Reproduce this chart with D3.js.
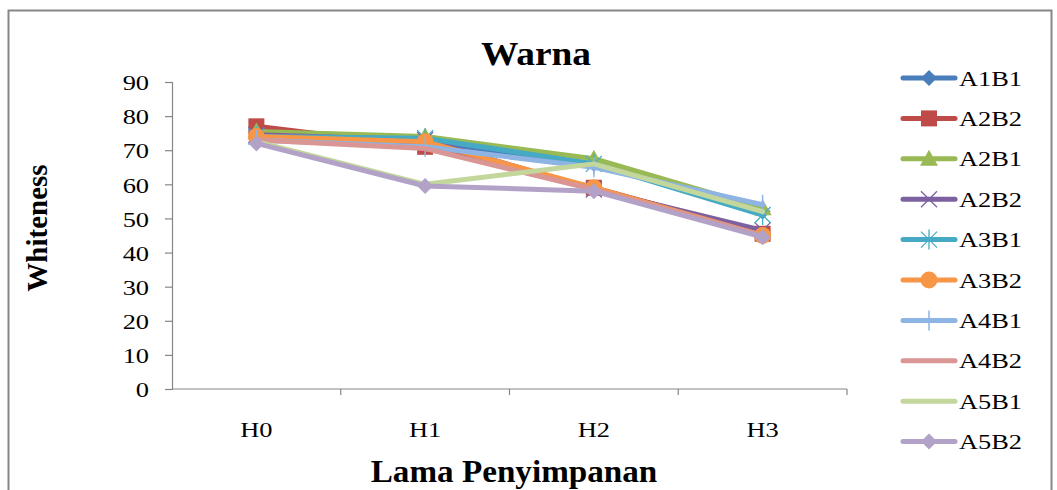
<!DOCTYPE html>
<html>
<head>
<meta charset="utf-8">
<script src="https://cdn.jsdelivr.net/npm/d3@7"></script>
<style>
  html, body { margin: 0; padding: 0; background: #fff; }
  svg { display: block; }
  text { font-family: "Liberation Serif", "Times New Roman", serif; fill: #000; }
</style>
</head>
<body>
<svg id="chart" width="1057" height="490"></svg>
<script>
// Storage time categories and Whiteness readings per treatment
const categories = ["H0", "H1", "H2", "H3"];
const seriesNames = ["A1B1", "A2B2", "A2B1", "A2B2", "A3B1", "A3B2", "A4B1", "A4B2", "A5B1", "A5B2"];
const A1B1 = [75, 72.5, 66, 52];
const A2B2a = [77, 71, 59, 45.5];
const A2B1 = [75.5, 74, 67.5, 53];
const A2B2b = [74.5, 73, 58.5, 46.5];
const A3B1 = [74, 73.5, 66, 51];
const A3B2 = [74, 72.5, 59, 45];
const A4B1 = [73, 71, 65, 54];
const A4B2 = [73, 70.5, 58.5, 45];
const A5B1 = [72.5, 60, 66, 52];
const A5B2 = [72, 59.5, 58, 44.5];
const yTicks = [0, 10, 20, 30, 40, 50, 60, 70, 80, 90];

const seriesValues = [A1B1, A2B2a, A2B1, A2B2b, A3B1, A3B2, A4B1, A4B2, A5B1, A5B2];
const colors = ["#4A7EBB", "#BE4B48", "#98B954", "#7D60A0", "#46AAC5", "#F79646", "#8EB4E3", "#D99694", "#C3D69B", "#B3A2C7"];
const markers = ["diamond", "square", "triangle", "x", "star", "circle", "plus", "none", "none", "diamond"];

const svg = d3.select("#chart");
const SX = 1.2; // horizontal text stretch

// Outer chart frame
svg.append("rect")
  .attr("x", 8.5).attr("y", 10.5)
  .attr("width", 1043).attr("height", 500)
  .attr("fill", "none").attr("stroke", "#868686").attr("stroke-width", 2);

const plot = { left: 172, right: 847, top: 82, bottom: 389 };

const x = d3.scaleBand().domain(categories).range([plot.left, plot.right]);
const y = d3.scaleLinear().domain([0, 90]).range([plot.bottom, plot.top]);

// Y axis
const yAxis = svg.append("g")
  .attr("transform", `translate(${plot.left},0)`)
  .call(d3.axisLeft(y).tickValues(yTicks).tickSize(7).tickPadding(0));
yAxis.select(".domain").attr("stroke", "#868686").attr("stroke-width", 1.2);
yAxis.selectAll(".tick line").attr("stroke", "#868686").attr("stroke-width", 1.2);
yAxis.selectAll(".tick text")
  .attr("font-size", 22)
  .attr("font-family", "Liberation Serif")
  .attr("x", -23 / SX)
  .attr("dy", "0.35em")
  .attr("transform", `scale(${SX},1)`);

// X axis
const xAxis = svg.append("g")
  .attr("transform", `translate(0,${plot.bottom})`)
  .call(d3.axisBottom(x).tickSize(0).tickPadding(0));
xAxis.select(".domain").attr("stroke", "#868686").attr("stroke-width", 1.2)
  .attr("d", `M${plot.left},0H${plot.right}`);
xAxis.selectAll(".tick text")
  .attr("font-size", 22)
  .attr("font-family", "Liberation Serif")
  .attr("y", 48)
  .attr("dy", 0)
  .attr("transform", `scale(${SX},1)`);
xAxis.selectAll(".tick").each(function (d) {
  const cx = x(d) + x.bandwidth() / 2;
  d3.select(this).attr("transform", null);
  d3.select(this).select("text").attr("x", cx / SX);
});
// category separators
x.domain().forEach(c => {
  svg.append("line")
    .attr("x1", x(c) + x.bandwidth()).attr("x2", x(c) + x.bandwidth())
    .attr("y1", plot.bottom).attr("y2", plot.bottom + 6)
    .attr("stroke", "#868686").attr("stroke-width", 1.2);
});

// Marker shapes
function drawMarker(g, type, cx, cy, color) {
  const s = 8;
  switch (type) {
    case "diamond":
      g.append("path").attr("d", `M${cx},${cy - s}L${cx + s},${cy}L${cx},${cy + s}L${cx - s},${cy}Z`).attr("fill", color);
      break;
    case "square":
      g.append("rect").attr("x", cx - 8).attr("y", cy - 8).attr("width", 16).attr("height", 16).attr("fill", color);
      break;
    case "triangle":
      g.append("path").attr("d", `M${cx},${cy - 9}L${cx + 9},${cy + 7}L${cx - 9},${cy + 7}Z`).attr("fill", color);
      break;
    case "circle":
      g.append("circle").attr("cx", cx).attr("cy", cy).attr("r", 8.5).attr("fill", color);
      break;
    case "x":
      g.append("path").attr("d", `M${cx - 8},${cy - 8}L${cx + 8},${cy + 8}M${cx - 8},${cy + 8}L${cx + 8},${cy - 8}`)
        .attr("stroke", color).attr("stroke-width", 1.3).attr("fill", "none");
      break;
    case "star":
      g.append("path").attr("d", `M${cx - 8},${cy - 8}L${cx + 8},${cy + 8}M${cx - 8},${cy + 8}L${cx + 8},${cy - 8}M${cx},${cy - 10}L${cx},${cy + 10}`)
        .attr("stroke", color).attr("stroke-width", 1.3).attr("fill", "none");
      break;
    case "plus":
      g.append("path").attr("d", `M${cx},${cy - 10}L${cx},${cy + 10}`)
        .attr("stroke", color).attr("stroke-width", 1.5).attr("fill", "none");
      break;
  }
}

// Series lines and markers
const line = d3.line()
  .x((d, i) => x(categories[i]) + x.bandwidth() / 2)
  .y(d => y(d));

seriesValues.forEach((vals, k) => {
  const g = svg.append("g");
  g.append("path")
    .datum(vals)
    .attr("d", line)
    .attr("fill", "none")
    .attr("stroke", colors[k])
    .attr("stroke-width", 5)
    .attr("stroke-linejoin", "round")
    .attr("stroke-linecap", "round");
  vals.forEach((v, i) => {
    drawMarker(g, markers[k], x(categories[i]) + x.bandwidth() / 2, y(v), colors[k]);
  });
});

// Legend
const legend = svg.append("g");
seriesNames.forEach((name, k) => {
  const ly = 78 + k * 40.4;
  const g = legend.append("g");
  g.append("line")
    .attr("x1", 903).attr("x2", 955).attr("y1", ly).attr("y2", ly)
    .attr("stroke", colors[k]).attr("stroke-width", 5).attr("stroke-linecap", "round");
  drawMarker(g, markers[k], 929, ly, colors[k]);
  g.append("text")
    .attr("x", 959 / SX).attr("y", ly)
    .attr("dy", "0.35em")
    .attr("font-size", 22)
    .attr("transform", `scale(${SX},1)`)
    .text(name);
});

// Title and axis titles
svg.append("text")
  .attr("x", 536 / 1.1).attr("y", 65)
  .attr("text-anchor", "middle")
  .attr("font-size", 34).attr("font-weight", "bold")
  .attr("transform", "scale(1.1,1)")
  .text("Warna");

svg.append("text")
  .attr("x", 514 / 1.07).attr("y", 482)
  .attr("text-anchor", "middle")
  .attr("font-size", 31).attr("font-weight", "bold")
  .attr("transform", "scale(1.07,1)")
  .text("Lama Penyimpanan");

svg.append("text")
  .attr("transform", "translate(47,228) rotate(-90)")
  .attr("text-anchor", "middle")
  .attr("font-size", 29).attr("font-weight", "bold")
  .text("Whiteness");
</script>
</body>
</html>
